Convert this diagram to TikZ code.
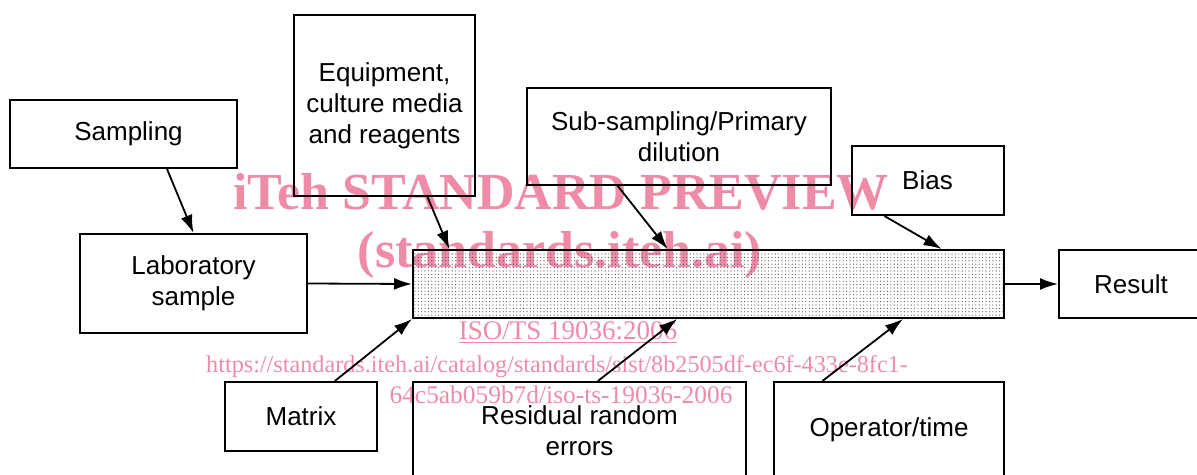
\documentclass[tikz,border=0pt]{standalone}
\usepackage{fontspec}
\setmainfont{Liberation Sans}
\newfontfamily\wmserif{Liberation Serif}
\usetikzlibrary{arrows.meta,calc,patterns.meta}
\definecolor{wmpink}{RGB}{238,140,168}
\begin{document}
\begin{tikzpicture}[x=0.5pt,y=-0.5pt,
  box/.style={draw=black,line width=1pt,align=center,inner sep=0pt,
    font=\fontsize{13}{15.5}\selectfont},
  arr/.style={line width=0.9pt,-{Latex[length=9pt,width=6pt]}},
  wmbig/.style={text=wmpink,anchor=base,inner sep=0pt,
    font=\wmserif\bfseries\fontsize{26}{30}\selectfont},
  wmsmall/.style={text=wmpink,anchor=base,inner sep=0pt,
    font=\wmserif\fontsize{13.5}{16}\selectfont},
  wmurl/.style={text=wmpink,anchor=base,inner sep=0pt,
    font=\wmserif\fontsize{12.1}{15}\selectfont},
  wmurlb/.style={text=wmpink,anchor=base,inner sep=0pt,
    font=\wmserif\fontsize{12.7}{15}\selectfont}]
\useasboundingbox (0,0) rectangle (1197,475);
% watermark
\node[wmbig] (wm1) at (561,210) {iTeh STANDARD PREVIEW};
\node[wmbig] (wm2) at (560,268) {(standards.iteh.ai)};
\node[wmsmall] (wm3) at (568,339) {\underline{ISO/TS 19036:2006}};
\node[wmurl] (wm4) at (557,372) {https://standards.iteh.ai/catalog/standards/sist/8b2505df-ec6f-433e-8fc1-};
\node[wmurlb] (wm5) at (561,403) {64c5ab059b7d/iso-ts-19036-2006};
% boxes
\node[box,minimum width=113.5pt,minimum height=34pt] (samp) at (123.5,134) {\hspace*{5pt}Sampling};
\node[box,minimum width=90.5pt,minimum height=90.5pt] (equip) at (384.5,105.5) {Equipment,\\culture media\\and reagents};
\node[box,minimum width=152pt,minimum height=48.5pt] (sub) at (679,136.5) {Sub-sampling/Primary\\dilution};
\node[box,minimum width=76pt,minimum height=34.5pt] (bias) at (927.5,180.5) {Bias};
\node[box,minimum width=113.5pt,minimum height=49.5pt] (lab) at (193.5,283.5) {Laboratory\\sample};
\node[draw=black,line width=1pt,minimum width=295.5pt,minimum height=34pt,inner sep=0pt,
  pattern={Dots[distance=1.7pt,radius=0.28pt]},pattern color=black!75] (cen) at (708.5,284) {};
\node[box,minimum width=72pt,minimum height=34pt] (res) at (1131,284) {Result};
\node[box,minimum width=76pt,minimum height=34.5pt] (mat) at (301,416.5) {Matrix};
\node[box,minimum width=166.5pt,minimum height=49pt] (resid) at (579.5,431) {Residual random\\errors};
\node[box,minimum width=115pt,minimum height=48pt] (oper) at (889,430) {Operator/time};
% connectors
\draw[arr] ($(samp.south west)!0.69!(samp.south east)$) -- (lab.north);
\draw[arr] ($(equip.south west)!0.735!(equip.south east)$) -- ($(cen.north west)!0.063!(cen.north east)$);
\draw[arr] ($(sub.south west)!0.30!(sub.south east)$) -- ($(cen.north west)!0.431!(cen.north east)$);
\draw[arr] ($(bias.south west)!0.22!(bias.south east)$) -- ($(cen.north west)!0.893!(cen.north east)$);
\draw[arr] (lab.east) -- (cen.west);
\draw[arr] (cen.east) -- (res.west);
\draw[arr] ($(mat.north west)!0.72!(mat.north east)$) -- (cen.south west);
\draw[arr] ($(resid.north west)!0.555!(resid.north east)$) -- ($(cen.south west)!0.447!(cen.south east)$);
\draw[arr] ($(oper.north west)!0.213!(oper.north east)$) -- ($(cen.south west)!0.828!(cen.south east)$);
\end{tikzpicture}
\end{document}
